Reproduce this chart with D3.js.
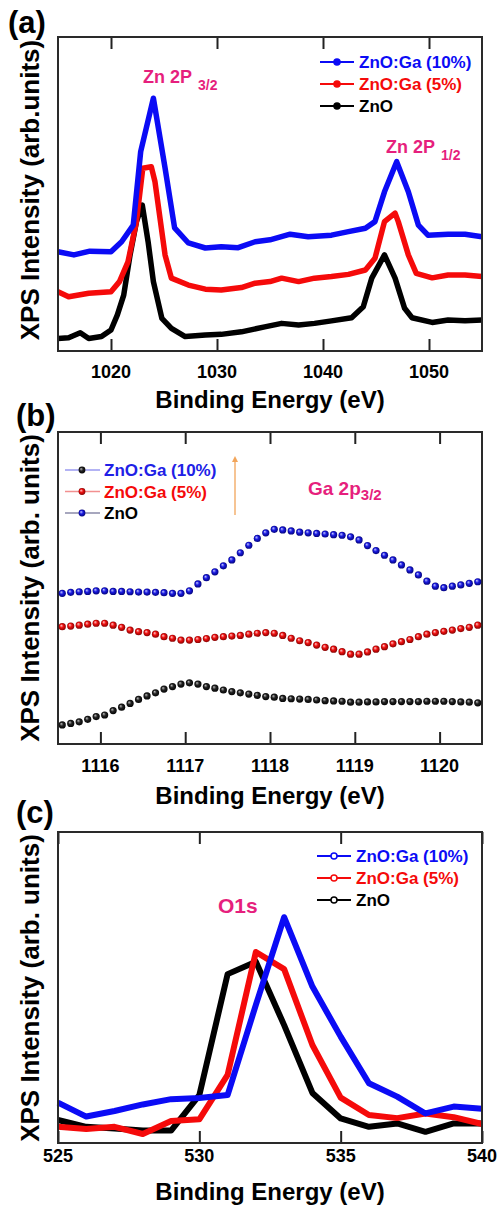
<!DOCTYPE html>
<html>
<head>
<meta charset="utf-8">
<script src="https://cdn.jsdelivr.net/npm/d3@7"></script>
<style>
  body { margin: 0; background: #fff; }
  text { font-family: "Liberation Sans", Arial, sans-serif; font-weight: bold; }
</style>
</head>
<body>
<div id="svgContainer"></div>
<script>
// ---- data (intensity in arbitrary units 0-100) ----

// (a) Zn 2p
var aBlueE  = [1015,1016.5,1018,1020,1021,1022.1,1022.8,1024,1025.1,1026,1027.3,1028.9,1030.4,1032,1033.6,1035,1036.9,1038.6,1040.8,1042.4,1044,1044.9,1045.8,1046.95,1048.05,1049,1049.9,1051.8,1053.4,1055];
var aBlueI  = [31.6,30.6,31.8,31.6,34.8,40.1,63.5,80.5,58.3,39.2,34.4,32.8,33.2,32.9,34.8,35.4,37.2,36.4,36.9,38.0,39.1,41.2,50.7,60.3,50.7,40.1,36.9,37.2,37.2,36.4];
var aRedE   = [1015,1016,1017.9,1020,1020.8,1021.6,1022.4,1023,1023.8,1024.15,1025.1,1025.7,1027.3,1028.9,1030.4,1032.3,1033.6,1035,1036.1,1037.7,1039.2,1040.8,1042.4,1044,1044.9,1045.8,1046.8,1047.1,1048.05,1048.8,1050.3,1051.8,1053.4,1055];
var aRedI   = [18.9,17.3,18.4,18.9,22.1,28.4,41.2,58.2,58.7,53.9,30.6,23.2,21.0,19.7,19.4,20.2,21.6,22.1,23.2,22.1,23.2,23.7,24.4,25.8,29.5,41.2,43.9,41.2,30.6,24.7,23.3,24.2,24.2,23.7];
var aBlackE = [1015,1016,1017.1,1017.9,1019.1,1020,1020.6,1021.2,1021.8,1022.4,1022.95,1023.5,1024,1024.8,1025.7,1027,1028.9,1030.4,1032.3,1034.5,1036.1,1037.7,1039.2,1040.8,1042.7,1043.8,1044.6,1045.8,1046.8,1047.7,1048.4,1050.3,1051.8,1053.4,1055];
var aBlackI = [4.0,4.2,5.8,4.0,4.6,6.7,11.5,17.8,30.6,41.2,46.5,34.8,22.1,10.4,7.2,4.6,5.1,5.3,6.1,7.7,8.8,8.3,8.8,9.6,10.6,14.1,23.2,30.6,23.2,13.6,10.6,9.1,9.9,9.6,9.9];
var aTicks  = [1020, 1030, 1040, 1050];

// (b) Ga 2p3/2
var bEnergy = [1115.55,1115.65,1115.75,1115.85,1115.95,1116.05,1116.15,1116.25,1116.35,1116.45,
               1116.55,1116.65,1116.75,1116.85,1116.95,1117.05,1117.15,1117.25,1117.35,1117.45,
               1117.55,1117.65,1117.75,1117.85,1117.95,1118.05,1118.15,1118.25,1118.35,1118.45,
               1118.55,1118.65,1118.75,1118.85,1118.95,1119.05,1119.15,1119.25,1119.35,1119.45,
               1119.55,1119.65,1119.75,1119.85,1119.95,1120.05,1120.15,1120.25,1120.35,1120.45];
var bBlue  = [48.3,48.6,48.8,48.9,49.1,49.1,48.9,48.9,48.8,48.7,48.7,48.6,48.5,48.3,48.3,49.1,51.3,53.3,55.2,57.1,
              59.0,61.3,63.7,65.9,67.7,68.8,68.6,68.3,67.9,67.7,67.5,67.3,67.1,66.9,66.4,65.4,63.6,62.0,60.5,59.0,
              57.4,55.8,54.2,52.2,50.6,50.1,50.6,51.0,51.5,52.0];
var bRed   = [37.6,37.8,38.1,38.4,38.7,38.7,38.1,37.4,36.5,36.0,35.7,35.2,34.4,33.9,33.3,33.3,33.5,33.8,34.2,34.4,
              34.6,34.8,35.2,35.5,35.7,35.5,34.8,33.9,33.1,32.5,31.7,31.0,30.4,29.6,28.8,28.8,29.5,30.4,31.2,32.1,
              32.8,33.5,34.4,35.2,35.7,36.1,36.5,37.0,37.4,38.1];
var bBlack = [6.1,6.6,7.1,7.9,8.8,9.3,10.7,11.8,13.0,14.3,15.4,16.4,17.6,18.4,19.2,19.6,19.2,18.4,17.9,17.3,
              16.8,16.4,16.0,15.6,15.2,15.0,14.6,14.5,14.4,14.3,14.1,13.9,13.8,13.7,13.4,13.4,13.5,13.5,13.6,13.6,
              13.6,13.6,13.6,13.7,13.7,13.7,13.6,13.5,13.4,13.2];
var bTicks = [1116, 1117, 1118, 1119, 1120];

// (c) O1s
var cEnergy = [525,526,527,528,529,530,531,532,533,534,535,536,537,538,539,540];
var cBlue   = [13.0,8.5,10.3,12.4,14.1,14.5,15.4,44.4,72.6,50.3,34.2,19.2,14.9,9.5,11.7,11.0];
var cRed    = [5.2,4.5,5.2,2.9,7.1,7.6,21.9,61.4,55.9,31.5,14.6,9.0,8.0,9.5,8.3,6.1];
var cBlack  = [7.4,5.2,4.7,4.0,4.0,15.4,54.3,58.3,37.9,16.1,7.9,5.2,6.3,3.6,6.3,6.3];
var cTicks  = [525, 530, 535, 540];

var legendNames = ["ZnO:Ga (10%)", "ZnO:Ga (5%)", "ZnO"];

// ---- drawing ----
var width = 499, height = 1205;
var left = 58, right = 482;
var BLUE = "#0b0bf5", RED = "#f50a0a", BLACK = "#000000", PINK = "#e61f7d";

var svg = d3.select("#svgContainer")
    .append("svg")
    .attr("width", width)
    .attr("height", height)
    .style("background", "#fff");

// shaded ball markers for panel (b)
var defs = svg.append("defs");
function ball(id, hi, mid, lo) {
    var g = defs.append("radialGradient").attr("id", id)
        .attr("cx", "50%").attr("cy", "50%").attr("r", "55%")
        .attr("fx", "35%").attr("fy", "32%");
    g.append("stop").attr("offset", "0%").attr("stop-color", hi);
    g.append("stop").attr("offset", "45%").attr("stop-color", mid);
    g.append("stop").attr("offset", "100%").attr("stop-color", lo);
}
ball("ballBlue", "#c8ccff", "#1a1ae0", "#000070");
ball("ballRed", "#ffd0d0", "#ee1010", "#7a0000");
ball("ballBlack", "#c0c0c0", "#222222", "#000000");

function frame(p) {
    var x = d3.scaleLinear().domain(p.xDomain).range([left, right]);
    var y = d3.scaleLinear().domain([0, 100]).range([p.bottom, p.top]);
    var g = svg.append("g");

    // inward ticks on bottom and top
    g.append("g")
        .attr("transform", "translate(0," + p.bottom + ")")
        .call(d3.axisBottom(x).tickValues(p.ticks).tickSize(-12).tickFormat(""))
        .call(function(s) { s.select(".domain").remove(); })
        .selectAll("line").attr("stroke", "#222").attr("stroke-width", 2);
    g.append("g")
        .attr("transform", "translate(0," + p.top + ")")
        .call(d3.axisTop(x).tickValues(p.ticks).tickSize(-12).tickFormat(""))
        .call(function(s) { s.select(".domain").remove(); })
        .selectAll("line").attr("stroke", "#222").attr("stroke-width", 2);

    // tick labels
    g.selectAll(".tl").data(p.ticks).enter().append("text")
        .attr("x", function(d) { return x(d); })
        .attr("y", p.labelY)
        .attr("text-anchor", "middle")
        .attr("font-size", 18)
        .text(function(d) { return d; });

    // axis titles
    g.append("text")
        .attr("x", (left + right) / 2).attr("y", p.titleY)
        .attr("text-anchor", "middle").attr("font-size", 24)
        .text("Binding Energy (eV)");
    g.append("text")
        .attr("transform", "translate(39," + p.yTitleC + ") rotate(-90)")
        .attr("text-anchor", "middle").attr("font-size", 26)
        .text(p.yTitle);

    // panel letter
    g.append("text")
        .attr("x", p.tagX).attr("y", p.tagY)
        .attr("font-size", 31)
        .text(p.tag);

    p.x = x; p.y = y; p.g = g;
    return p;
}

function box(p) {
    p.g.append("rect")
        .attr("x", left).attr("y", p.top)
        .attr("width", right - left).attr("height", p.bottom - p.top)
        .attr("fill", "none").attr("stroke", "#2a2a2a").attr("stroke-width", 2);
}

function curve(p, xs, ys, color, w) {
    var pts = xs.map(function(d, i) { return [d, ys[i]]; });
    var line = d3.line()
        .x(function(d) { return p.x(d[0]); })
        .y(function(d) { return p.y(d[1]); });
    p.g.append("path")
        .datum(pts)
        .attr("d", line)
        .attr("fill", "none")
        .attr("stroke", color)
        .attr("stroke-width", w)
        .attr("stroke-linejoin", "round");
}

function lineLegend(p, x0, y0, dy, colors, open) {
    colors.forEach(function(c, i) {
        var yy = y0 + i * dy;
        p.g.append("line").attr("x1", x0).attr("x2", x0 + 34)
            .attr("y1", yy).attr("y2", yy)
            .attr("stroke", c).attr("stroke-width", 2.2);
        p.g.append("circle").attr("cx", x0 + 17).attr("cy", yy).attr("r", 3)
            .attr("fill", open ? "#fff" : c).attr("stroke", c).attr("stroke-width", 1.5);
        p.g.append("text").attr("x", x0 + 39).attr("y", yy + 6)
            .attr("font-size", 17).attr("fill", c)
            .text(legendNames[i]);
    });
}

function peakLabel(p, x0, y0, main, sub, size, subSize, gap, drop) {
    var t = p.g.append("text").attr("x", x0).attr("y", y0)
        .attr("font-size", size).attr("fill", PINK);
    t.append("tspan").text(main);
    if (sub) {
        t.append("tspan").attr("dx", gap).attr("dy", drop)
            .attr("font-size", subSize).text(sub);
    }
}

// ---------- panel (a) ----------
var pa = frame({ top: 37, bottom: 351, xDomain: [1015, 1055], ticks: aTicks,
    labelY: 378, titleY: 408, yTitleC: 190, yTitle: "XPS Intensity (arb.units)",
    tag: "(a)", tagX: 8, tagY: 33 });
curve(pa, aBlackE, aBlackI, BLACK, 5.5);
curve(pa, aRedE, aRedI, RED, 5.5);
curve(pa, aBlueE, aBlueI, BLUE, 5.5);
box(pa);
lineLegend(pa, 320, 62, 22, [BLUE, RED, BLACK], false);
peakLabel(pa, 143, 83, "Zn 2P", "3/2", 18, 14, 6, 7);
peakLabel(pa, 386, 153, "Zn 2P", "1/2", 18, 14, 6, 7);

// ---------- panel (b) ----------
var pb = frame({ top: 432, bottom: 744, xDomain: [1115.5, 1120.5], ticks: bTicks,
    labelY: 772, titleY: 804, yTitleC: 588, yTitle: "XPS Intensity (arb. units)",
    tag: "(b)", tagX: 16, tagY: 426 });
box(pb);
[[bBlack, "ballBlack"], [bRed, "ballRed"], [bBlue, "ballBlue"]].forEach(function(s) {
    pb.g.selectAll(null).data(s[0]).enter().append("circle")
        .attr("cx", function(d, i) { return pb.x(bEnergy[i]); })
        .attr("cy", function(d) { return pb.y(d); })
        .attr("r", 3.6)
        .attr("fill", "url(#" + s[1] + ")");
});
// legend in (b) keeps the mismatched marker colours of the original
var bLeg = [
    { line: "#9a9af0", ball: "ballBlack", text: "#2020e6" },
    { line: "#f29090", ball: "ballRed", text: RED },
    { line: "#8a8aa8", ball: "ballBlue", text: BLACK }
];
bLeg.forEach(function(d, i) {
    var yy = 470 + i * 21.5;
    pb.g.append("line").attr("x1", 65).attr("x2", 100).attr("y1", yy).attr("y2", yy)
        .attr("stroke", d.line).attr("stroke-width", 1.4);
    pb.g.append("circle").attr("cx", 82).attr("cy", yy).attr("r", 3.4)
        .attr("fill", "url(#" + d.ball + ")");
    pb.g.append("text").attr("x", 104).attr("y", yy + 6)
        .attr("font-size", 17).attr("fill", d.text).text(legendNames[i]);
});
// small orange arrow
pb.g.append("line").attr("x1", 235).attr("x2", 235).attr("y1", 515).attr("y2", 460)
    .attr("stroke", "#f2a55a").attr("stroke-width", 1.3);
pb.g.append("path").attr("d", "M232,462 L235,456 L238,462 Z").attr("fill", "#f2a55a");
peakLabel(pb, 308, 495, "Ga 2p", "3/2", 19, 15, 0, 5);

// ---------- panel (c) ----------
var pc = frame({ top: 832, bottom: 1143, xDomain: [525, 540], ticks: cTicks,
    labelY: 1162, titleY: 1200, yTitleC: 988, yTitle: "XPS Intensity (arb. units)",
    tag: "(c)", tagX: 16, tagY: 823 });
curve(pc, cEnergy, cBlack, BLACK, 6);
curve(pc, cEnergy, cRed, RED, 6);
curve(pc, cEnergy, cBlue, BLUE, 6);
box(pc);
lineLegend(pc, 317, 856, 22, [BLUE, RED, BLACK], true);
peakLabel(pc, 218, 913, "O1s", null, 21);
</script>
</body>
</html>
